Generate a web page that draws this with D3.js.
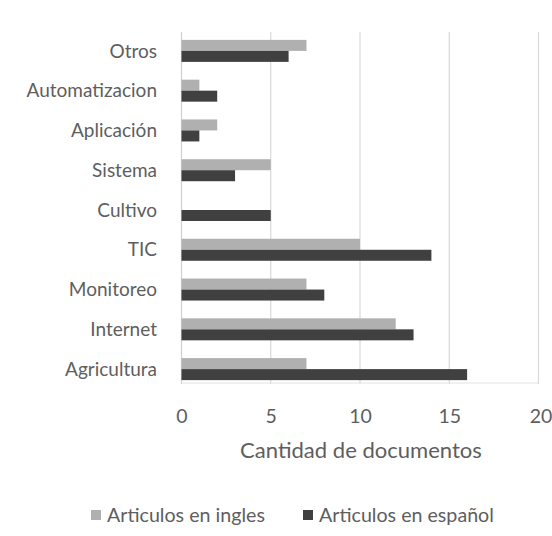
<!DOCTYPE html>
<html><head><meta charset="utf-8">
<script src="https://cdn.jsdelivr.net/npm/d3@7"></script>
<style>body{margin:0;background:#fff}svg{display:block}text{font-family:Lato,"Open Sans",sans-serif}</style>
</head><body>
<svg id="c" width="552" height="536"></svg>
<script>
const categories = ["Otros","Automatizacion","Aplicación","Sistema","Cultivo","TIC","Monitoreo","Internet","Agricultura"];
const seriesNames = ["Articulos en ingles","Articulos en español"];
const ingles  = [7,1,2,5,0,10,7,12,7];
const espanol = [6,2,1,3,5,14,8,13,16];
const xTicks = [0,5,10,15,20];
const axisTitle = "Cantidad de documentos";
const colors = ["#b0b0b0","#404040"];
const textColor = "#5e5e5e";

const svg = d3.select("#c");
const x = d3.scaleLinear().domain([0,20]).range([181.5,538.5]);
const y = d3.scaleBand().domain(categories).range([31,389]).padding(0);
const sub = d3.scaleBand().domain(seriesNames)
  .range([y.bandwidth()/2 - 11, y.bandwidth()/2 + 11]);

function fit(sel, w){ sel.each(function(){ const fs=parseFloat(this.getAttribute("font-size")); const l=this.getComputedTextLength(); this.setAttribute("font-size", fs*w/l); }); }

// gridlines
svg.append("g").selectAll("line").data(xTicks).join("line")
  .attr("x1", d=>x(d)).attr("x2", d=>x(d)).attr("y1", 32).attr("y2", 384)
  .attr("stroke", d=> d===0 ? "#d0d0d0" : "#d9d9d9").attr("stroke-width",1.2);
svg.append("line").attr("x1",x(0)).attr("x2",x(20)).attr("y1",383).attr("y2",383)
  .attr("stroke","#e2e2e2").attr("stroke-width",1);

// bars
const data = categories.map((c,i)=>({c, v:[ingles[i], espanol[i]]}));
const g = svg.append("g").selectAll("g").data(data).join("g")
  .attr("transform", d=>`translate(0,${y(d.c)})`);
g.selectAll("rect").data(d=>d.v.map((v,j)=>({s:seriesNames[j], v, j}))).join("rect")
  .attr("x", x(0)).attr("y", d=>sub(d.s)).attr("height", sub.bandwidth())
  .attr("width", d=>x(d.v)-x(0)).attr("fill", d=>colors[d.j]);

// category labels
svg.append("g").selectAll("text").data(categories).join("text")
  .attr("x", 157).attr("y", d=>y(d)+y.bandwidth()/2).attr("dy","0.35em")
  .attr("text-anchor","end").attr("font-size",19).attr("fill",textColor).text(d=>d);

// x axis tick labels
const xAxis = d3.axisBottom(x).tickValues(xTicks).tickSize(0).tickPadding(0);
const ax = svg.append("g").attr("transform","translate(0,409)").call(xAxis);
ax.select(".domain").remove();
ax.selectAll("text").attr("font-size",19.5).attr("fill",textColor).attr("font-family","Lato,sans-serif");
ax.selectAll(".tick").filter(d=>d===20).select("text").attr("dx",2);

// axis title
svg.append("text").attr("x",361).attr("y",458).attr("text-anchor","middle")
  .attr("font-size",20).attr("fill",textColor).text(axisTitle).call(fit,242);

// legend
const legX = [[91,107,158],[303,319,175]];
seriesNames.forEach((s,i)=>{
  svg.append("rect").attr("x",legX[i][0]).attr("y",510).attr("width",10).attr("height",10).attr("fill",colors[i]);
  svg.append("text").attr("x",legX[i][1]).attr("y",521.5).attr("font-size",18)
    .attr("fill",textColor).text(s).call(fit, legX[i][2]);
});
</script>
</body></html>
